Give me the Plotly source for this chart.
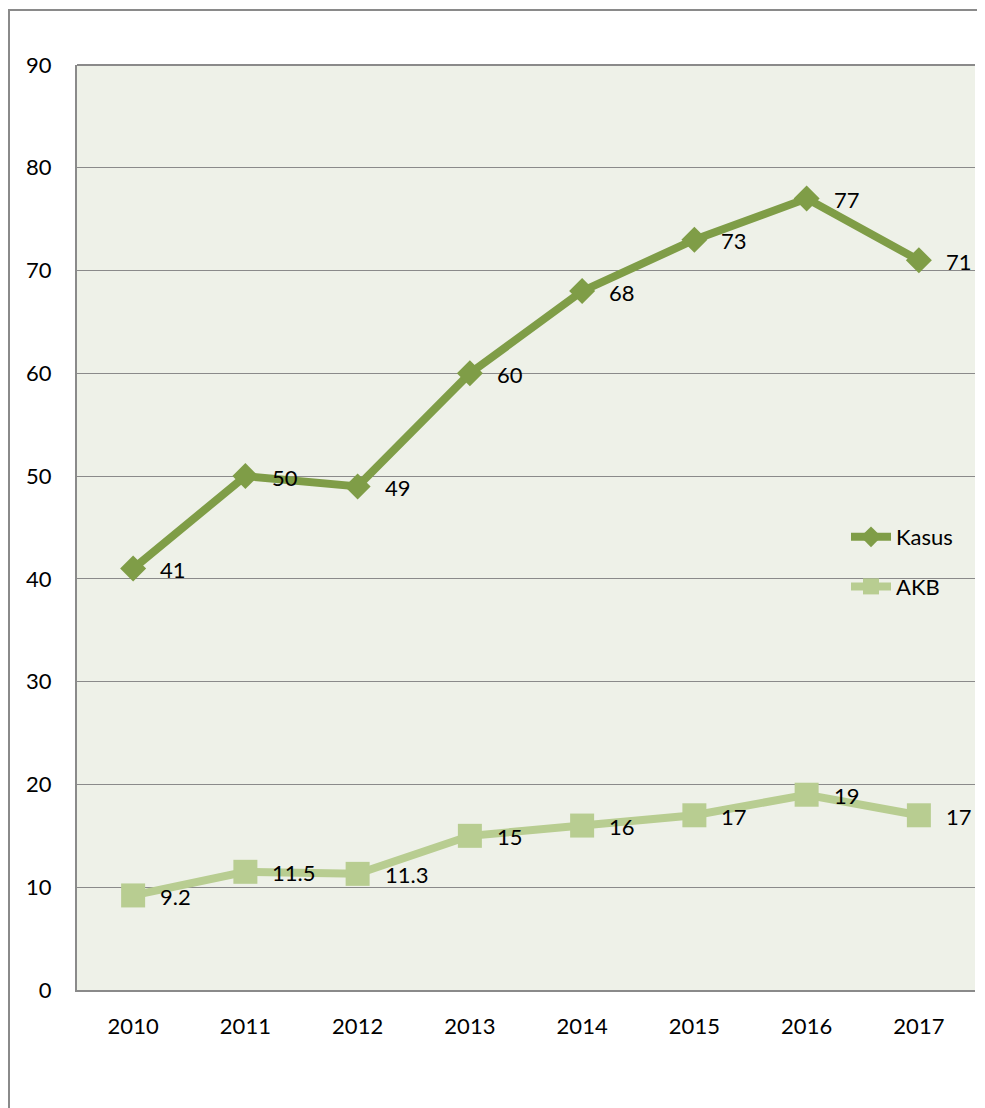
import plotly.graph_objects as go

years = ["2010", "2011", "2012", "2013", "2014", "2015", "2016", "2017"]
kasus = [41, 50, 49, 60, 68, 73, 77, 71]
akb = [9.2, 11.5, 11.3, 15, 16, 17, 19, 17]
akb_labels = ["9.2", "11.5", "11.3", "15", "16", "17", "19", "17"]
kasus_labels = [str(v) for v in kasus]
y_ticks = [0, 10, 20, 30, 40, 50, 60, 70, 80, 90]

FONT = "Lato"
FS = 22
KASUS_COLOR = "#7F9D47"
AKB_COLOR = "#B8CD91"
GRID = "#8A8A8A"

fig = go.Figure()
fig.add_trace(go.Scatter(
    x=years, y=kasus, name="Kasus", mode="lines+markers",
    line=dict(color=KASUS_COLOR, width=8),
    marker=dict(symbol="diamond", size=20, color=KASUS_COLOR),
    legendgroup="a",
))
fig.add_trace(go.Scatter(
    x=years, y=akb, name="AKB", mode="lines+markers",
    line=dict(color=AKB_COLOR, width=8),
    marker=dict(symbol="square", size=24, color=AKB_COLOR),
    legendgroup="b",
))

for ys, labs in ((kasus, kasus_labels), (akb, akb_labels)):
    for i, (yv, lab) in enumerate(zip(ys, labs)):
        fig.add_annotation(x=i, y=yv, xref="x", yref="y", text=lab, showarrow=False,
                           xanchor="left", yanchor="middle", xshift=25, yshift=-1,
                           font=dict(family=FONT, size=FS, color="black"))

# figure is offset by the page's 8px body margin
OFF = 8
W, H = 985 - OFF, 1108 - OFF
L, T = 77 - OFF, 65 - OFF
R = W - (975 - OFF)
B = H - (990 - OFF)
pw, ph = W - L - R, H - T - B


def px_x(p):
    return (p - OFF - L) / pw


def px_y(p):
    return (H - B - (p - OFF)) / ph


fig.add_shape(type="rect", xref="paper", yref="paper",
              x0=px_x(9), x1=px_x(1010), y0=px_y(1250), y1=px_y(10),
              line=dict(color=GRID, width=2), fillcolor="rgba(0,0,0,0)", layer="below")
fig.add_shape(type="line", xref="paper", yref="paper", x0=0, x1=1, y0=1, y1=1,
              line=dict(color=GRID, width=2))

fig.update_layout(
    width=W, height=H,
    margin=dict(l=L, r=R, t=T, b=B),
    paper_bgcolor="white",
    plot_bgcolor="#EEF1E8",
    font=dict(family=FONT, size=FS, color="black"),
    showlegend=True,
    legend=dict(x=px_x(846), y=px_y(516), xanchor="left", yanchor="top",
                bgcolor="rgba(0,0,0,0)", font=dict(size=FS, family=FONT),
                tracegroupgap=18, itemwidth=40),
    xaxis=dict(type="category", range=[-0.5, 7.5], showgrid=False,
               showline=True, linecolor=GRID, linewidth=2,
               ticks="", ticklabelstandoff=16),
    yaxis=dict(range=[0, 90], tickvals=y_ticks, showgrid=True,
               gridcolor=GRID, gridwidth=1.2,
               showline=True, linecolor=GRID, linewidth=2,
               ticks="", ticklabelstandoff=19, zeroline=False),
)

fig.write_html("out.html")
